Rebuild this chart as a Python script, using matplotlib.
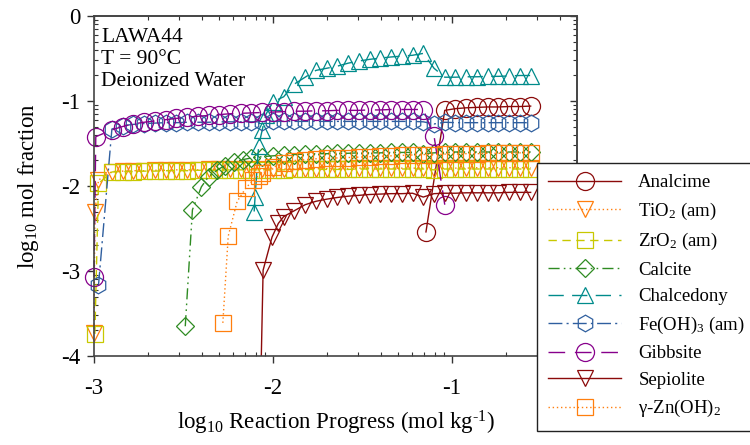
import numpy as np
import matplotlib
matplotlib.use("Agg")
import matplotlib.pyplot as plt
from matplotlib.ticker import FixedLocator, NullFormatter

plt.rcParams['font.family'] = ['Liberation Serif', 'DejaVu Serif']
plt.rcParams['mathtext.fontset'] = 'custom'
plt.rcParams['mathtext.rm'] = 'Liberation Serif'
plt.rcParams['mathtext.it'] = 'Liberation Serif:italic'
plt.rcParams['axes.unicode_minus'] = False

# common reaction-progress grid (log10 mol/kg)
G = [-2.90, -2.84, -2.78, -2.72, -2.66, -2.60, -2.54, -2.48, -2.42, -2.36,
     -2.30, -2.24, -2.18, -2.12, -2.06, -2.00, -1.94, -1.88, -1.82, -1.76,
     -1.70, -1.64, -1.58, -1.52, -1.46, -1.40, -1.34, -1.28, -1.22, -1.16,
     -1.10, -1.04, -0.98, -0.92, -0.86, -0.80, -0.74, -0.68, -0.62, -0.56]

analcime_x = [-1.145] + G[31:]
analcime_y = [-2.54, -1.11, -1.09, -1.08, -1.075, -1.07, -1.07, -1.065, -1.065, -1.06]

tio2_x = [-3.0, -2.995, -2.975] + G
tio2_y = [-3.73, -2.30, -1.93,
          -1.83, -1.825, -1.82, -1.82, -1.815, -1.815, -1.81, -1.81, -1.81, -1.805,
          -1.805, -1.805, -1.80, -1.80, -1.80, -1.80, -1.80, -1.80, -1.795, -1.795,
          -1.795, -1.795, -1.795, -1.79, -1.79, -1.79, -1.79, -1.79, -1.79, -1.79,
          -1.80, -1.79, -1.79, -1.79, -1.785, -1.785, -1.785, -1.785, -1.785, -1.785]

zro2_x = [-2.995, -2.975] + G
zro2_y = [-3.74, -1.97,
          -1.835, -1.83, -1.83, -1.825, -1.825, -1.82, -1.82, -1.82, -1.815, -1.815,
          -1.815, -1.81, -1.81, -1.81, -1.81, -1.81, -1.81, -1.805, -1.805, -1.805,
          -1.805, -1.805, -1.805, -1.80, -1.80, -1.80, -1.80, -1.80, -1.80, -1.80,
          -1.81, -1.80, -1.80, -1.80, -1.80, -1.80, -1.80, -1.80, -1.80, -1.80]

calcite_x = [-2.49, -2.45, -2.40, -2.36, -2.31, -2.27, -2.22, -2.17, -2.12] + G[14:]
calcite_y = [-3.65, -2.28, -2.01, -1.89, -1.81, -1.76, -1.72, -1.69, -1.67,
             -1.655, -1.645, -1.635, -1.63, -1.625, -1.62, -1.62, -1.615, -1.615, -1.61,
             -1.61, -1.61, -1.605, -1.605, -1.605, -1.62, -1.61, -1.605, -1.60, -1.60,
             -1.60, -1.60, -1.60, -1.60, -1.60, -1.60]

chalcedony_x = [-2.105, -2.10, -2.08, -2.06, -2.04] + G[15:]
chalcedony_y = [-2.30, -2.13, -1.53, -1.34, -1.16,
                -1.01, -0.95, -0.80, -0.72, -0.64, -0.615, -0.59, -0.555, -0.53, -0.51,
                -0.495, -0.482, -0.472, -0.462, -0.44, -0.615, -0.72, -0.72, -0.715, -0.715,
                -0.71, -0.71, -0.705, -0.70, -0.70]

feoh3_x = [-2.975] + G
feoh3_y = [-3.17,
           -1.33, -1.29, -1.275, -1.265, -1.26, -1.255, -1.255, -1.25, -1.25, -1.25,
           -1.245, -1.245, -1.245, -1.245, -1.245, -1.24, -1.24, -1.24, -1.24, -1.24,
           -1.24, -1.24, -1.24, -1.24, -1.24, -1.24, -1.24, -1.24, -1.24, -1.245,
           -1.27, -1.25, -1.255, -1.255, -1.255, -1.255, -1.255, -1.255, -1.255, -1.255]

gibbsite_x = [-3.0, -2.99] + G[:32]
gibbsite_y = [-3.07, -1.42,
              -1.34, -1.30, -1.27, -1.25, -1.235, -1.22, -1.205, -1.19, -1.18, -1.17,
              -1.16, -1.15, -1.145, -1.14, -1.135, -1.13, -1.125, -1.12, -1.12, -1.115,
              -1.115, -1.11, -1.11, -1.11, -1.105, -1.105, -1.10, -1.10, -1.10, -1.10,
              -1.41, -2.22]

sepiolite_x = [-2.07, -2.055, -2.005, -1.97] + G[16:]
sepiolite_y = [-4.5, -2.99, -2.60, -2.44,
               -2.36, -2.29, -2.22, -2.18, -2.155, -2.135, -2.12, -2.11, -2.10, -2.095,
               -2.09, -2.09, -2.085, -2.13, -2.09, -2.085, -2.085, -2.08, -2.08, -2.08,
               -2.08, -2.075, -2.075, -2.075]

znoh2_x = [-2.28, -2.25, -2.20, -2.15, -2.11, -2.08] + G[14:]
znoh2_y = [-3.61, -2.59, -2.18, -2.02, -1.93, -1.88,
           -1.85, -1.78, -1.73, -1.70, -1.69, -1.68, -1.675, -1.67, -1.665, -1.66,
           -1.655, -1.65, -1.645, -1.64, -1.635, -1.63, -1.63, -1.625, -1.625, -1.62,
           -1.62, -1.615, -1.615, -1.615, -1.61, -1.61]

red = '#8b0a0a'
orange = '#ff7f0e'
olive = '#c8c800'
green = '#2e8b22'
teal = '#008b8b'
blue = '#2f5f9f'
purple = '#87008b'

series = [
    ('Analcime', analcime_x, analcime_y, red, '-', 'o', 13),
    ('TiO$_2$ (am)', tio2_x, tio2_y, orange, (0, (1, 2)), 'v', 12),
    ('ZrO$_2$ (am)', zro2_x, zro2_y, olive, (0, (6, 4)), 's', 11),
    ('Calcite', calcite_x, calcite_y, green, (0, (8, 3, 1.2, 3, 1.2, 3)), 'D', 9.5),
    ('Chalcedony', chalcedony_x, chalcedony_y, teal, (0, (11, 6)), '^', 12),
    ('Fe(OH)$_3$ (am)', feoh3_x, feoh3_y, blue, (0, (10, 3, 1.5, 3)), 'h', 12),
    ('Gibbsite', gibbsite_x, gibbsite_y, purple, (0, (12, 7)), 'o', 13),
    ('Sepiolite', sepiolite_x, sepiolite_y, red, '-', 'v', 12),
    ('γ-Zn(OH)$_2$', znoh2_x, znoh2_y, orange, (0, (1, 2)), 's', 11),
]

fig = plt.figure(figsize=(7.5, 4.45), dpi=100)
ax = fig.add_axes([94 / 750, 1 - 356 / 445, 483 / 750, 340 / 445])

for name, xs, ys, col, ls, mk, ms in series:
    ax.plot(xs, ys, color=col, linestyle=ls, linewidth=1.0, marker=mk,
            markersize=ms, markerfacecolor='none', markeredgecolor=col,
            markeredgewidth=0.9, label=name, clip_on=(name == 'Sepiolite'))

ax.set_xlim(-3, np.log10(0.5))
ax.set_ylim(-4, 0)

xmaj = [-3, -2, -1]
xmin = [np.log10(k * 10.0 ** n) for n in (-3, -2, -1) for k in range(2, 10)]
xmin = [v for v in xmin if v <= np.log10(0.5) + 1e-9]
ymaj = [-4, -3, -2, -1, 0]
ymin = [np.log10(k * 10.0 ** n) for n in (-4, -3, -2, -1) for k in range(2, 10)]

ax.set_xticks(xmaj)
ax.set_yticks(ymaj)
ax.xaxis.set_minor_locator(FixedLocator(xmin))
ax.yaxis.set_minor_locator(FixedLocator(ymin))
ax.tick_params(which='major', direction='out', length=5, width=1, labelsize=16.5,
               color='#333333')
ax.tick_params(which='minor', direction='in', length=3, width=0.8, color='#333333')
ax.tick_params(axis='x', which='major', pad=11)
ax.tick_params(axis='y', which='major', pad=5)

secx = ax.secondary_xaxis('top')
secx.set_xticks(xmaj)
secx.xaxis.set_minor_locator(FixedLocator(xmin))
secx.xaxis.set_major_formatter(NullFormatter())
secx.tick_params(which='major', direction='in', length=5, width=1, color='#333333')
secx.tick_params(which='minor', direction='in', length=3, width=0.8, color='#333333')
secy = ax.secondary_yaxis('right')
secy.set_yticks(ymaj)
secy.yaxis.set_minor_locator(FixedLocator(ymin))
secy.yaxis.set_major_formatter(NullFormatter())
secy.tick_params(which='major', direction='in', length=5, width=1, color='#333333')
secy.tick_params(which='minor', direction='in', length=3, width=0.8, color='#333333')

for a in (ax, secx, secy):
    for s in a.spines.values():
        s.set_color('#444444')
        s.set_linewidth(1.2)

ax.set_xlabel(r'log$_{10}$ Reaction Progress (mol kg$^{\text{-1}}$)', fontsize=16.5,
              labelpad=7)
ax.set_ylabel('log$_{10}$ mol fraction', fontsize=16.5, labelpad=14)

ax.text(0.015, 0.966, 'LAWA44\nT = 90°C\nDeionized Water', transform=ax.transAxes,
        ha='left', va='top', fontsize=15.5, linespacing=1.22)

leg = fig.legend(loc='upper left', bbox_to_anchor=(537 / 750, 1 - 163 / 445),
                 bbox_transform=fig.transFigure, borderaxespad=0, fontsize=13.5,
                 handlelength=3.9, numpoints=1, labelspacing=0.5, handletextpad=0.9,
                 borderpad=0.6, fancybox=False, framealpha=1, edgecolor='#222222')
leg.get_frame().set_linewidth(1.0)

fig.savefig('out.png', dpi=100)
